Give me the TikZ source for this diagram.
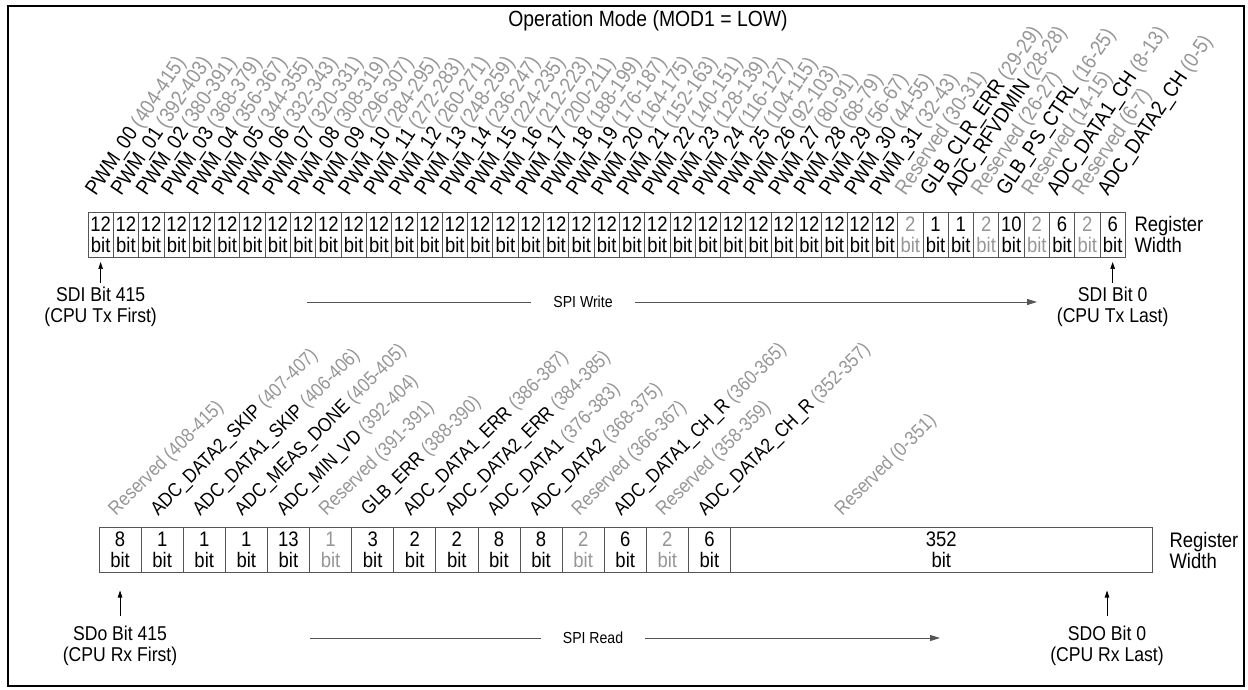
\documentclass[tikz,border=0pt]{standalone}
\usepackage{fontspec}
\setmainfont[FakeStretch=0.88]{Liberation Sans}
\usetikzlibrary{arrows.meta}
\definecolor{rgink}{RGB}{0,0,0}
\definecolor{rggray}{RGB}{150,150,150}
\definecolor{rgline}{RGB}{85,85,85}

\begin{document}
\begin{tikzpicture}[
    x=1pt, y=1pt,
    font=\fontsize{21}{21}\selectfont,
    % Register cells: one box per field, width and colour from the field.
    cell/.style={
        draw=rgline,
        line width=0.7pt,
        minimum height=45pt,
        inner sep=0pt,
        outer sep=0pt,
        align=center
    },
    wcell/.style={cell, minimum width=25.3pt},
    rcell/.style={cell, minimum width=42.1pt},
    field/.style={rotate=56, anchor=south west, inner sep=0pt},
    rfield/.style={rotate=45, anchor=south west, inner sep=0pt, font=\fontsize{19.5}{21}\selectfont},
    side/.style={align=left, anchor=west},
    origin/.style={align=center, anchor=north, inner sep=2pt, font=\fontsize{20}{21}\selectfont},
    flow/.style={line width=0.9pt, draw=rgline},
    flowlabel/.style={fill=white, inner xsep=22pt, font=\fontsize{16}{18}\selectfont},
    tick/.style={-{Triangle[length=7pt,width=4.5pt]}, line width=0.7pt}
]
    \useasboundingbox (0,0) rectangle (1248,689);
    \draw[line width=2pt] (8,3) rectangle (1244,683);

    \node (title) at (648,668) {\fontsize{22}{24}\selectfont Operation Mode (MOD1 = LOW)};

    % SPI write register
    \foreach \i in {1,...,32} {
        \node[wcell] (w\i) at ({88+(\i-0.5)*25.3},454.5) {12\\bit};
    }
    \foreach \bits/\col [count=\j from 33] in {2/rggray,1/rgink,1/rgink,2/rggray,10/rgink,2/rggray,6/rgink,2/rggray,6/rgink} {
        \node[wcell, text=\col] (w\j) at ({88+(\j-0.5)*25.3},454.5) {\bits\\bit};
    }

    \foreach \i [count=\j] in {0,...,31} {
        \pgfmathtruncatemacro{\lo}{404-12*\i}
        \pgfmathtruncatemacro{\hi}{415-12*\i}
        \node[field] (lw\j) at ([xshift=-1pt,yshift=13pt]w\j.north)
            {PWM\_\ifnum\i<10 0\fi\i{} \textcolor{rggray}{(\lo-\hi)}};
    }
    \foreach \fld/\rng/\col [count=\j from 33] in {
        Reserved/30-31/rggray, GLB\_CLR\_ERR/29-29/rgink, ADC\_RFVDMIN/28-28/rgink,
        Reserved/26-27/rggray, GLB\_PS\_CTRL/16-25/rgink, Reserved/14-15/rggray,
        ADC\_DATA1\_CH/8-13/rgink, Reserved/6-7/rggray, ADC\_DATA2\_CH/0-5/rgink} {
        \node[field] (lw\j) at ([xshift=-1pt,yshift=13pt]w\j.north)
            {\textcolor{\col}{\fld} \textcolor{rggray}{(\rng)}};
    }

    \node[side] (wreg) at (1131,454.5) {Register\\Width};

    \node[origin] (wsrc) at ([yshift=-28pt]w1.south) {SDI Bit 415\\(CPU Tx First)};
    \node[origin] (wdst) at ([yshift=-28pt]w41.south) {SDI Bit 0\\(CPU Tx Last)};
    \draw[tick] ([yshift=2pt]wsrc.north) -- ([yshift=-5pt]w1.south);
    \draw[tick] ([yshift=2pt]wdst.north) -- ([yshift=-5pt]w41.south);

    \coordinate (wstart) at (307,387);
    \coordinate (wend) at (1037,387);
    \node[flowlabel] (wflow) at (583,387) {SPI Write};
    \draw[flow] (wstart) -- (wflow);
    \draw[flow, -{Triangle[length=10pt,width=6pt]}] (wflow) -- (wend);

    % SPI read register
    \foreach \bits/\col [count=\j] in {8/rgink,1/rgink,1/rgink,1/rgink,13/rgink,1/rggray,3/rgink,2/rgink,2/rgink,8/rgink,8/rgink,2/rggray,6/rgink,2/rggray,6/rgink} {
        \node[rcell, text=\col] (r\j) at ({99+(\j-0.5)*42.1},139) {\bits\\bit};
    }
    \node[cell, minimum width=421.5pt] (r16) at (941.25,139) {352\\bit};

    \foreach \fld/\rng/\col/\dx [count=\j] in {
        Reserved/408-415/rggray/0, ADC\_DATA2\_SKIP/407-407/rgink/0, ADC\_DATA1\_SKIP/406-406/rgink/0,
        ADC\_MEAS\_DONE/405-405/rgink/0, ADC\_MIN\_VD/392-404/rgink/0, Reserved/391-391/rggray/0,
        GLB\_ERR/388-390/rgink/0, ADC\_DATA1\_ERR/386-387/rgink/0, ADC\_DATA2\_ERR/384-385/rgink/0,
        ADC\_DATA1/376-383/rgink/0, ADC\_DATA2/368-375/rgink/0, Reserved/366-367/rggray/0,
        ADC\_DATA1\_CH\_R/360-365/rgink/0, Reserved/358-359/rggray/0, ADC\_DATA2\_CH\_R/352-357/rgink/0,
        Reserved/0-351/rggray/-95} {
        \node[rfield] (lr\j) at ([xshift=\dx pt-1pt,yshift=8pt]r\j.north)
            {\textcolor{\col}{\fld} \textcolor{rggray}{(\rng)}};
    }

    \node[side] (rreg) at (1166,139) {Register\\Width};

    \coordinate (rlast) at ([xshift=-45pt]r16.south east);
    \node[origin] (rsrc) at ([yshift=-51pt]r1.south) {SDo Bit 415\\(CPU Rx First)};
    \node[origin] (rdst) at ([yshift=-51pt]rlast) {SDO Bit 0\\(CPU Rx Last)};
    \draw[tick] ([yshift=8pt]rsrc.north) -- ([yshift=-18pt]r1.south);
    \draw[tick] ([yshift=8pt]rdst.north) -- ([yshift=-18pt]rlast);

    \coordinate (rstart) at (310,51);
    \coordinate (rend) at (940,51);
    \node[flowlabel] (rflow) at (593,51) {SPI Read};
    \draw[flow] (rstart) -- (rflow);
    \draw[flow, -{Triangle[length=10pt,width=6pt]}] (rflow) -- (rend);
\end{tikzpicture}
\end{document}
